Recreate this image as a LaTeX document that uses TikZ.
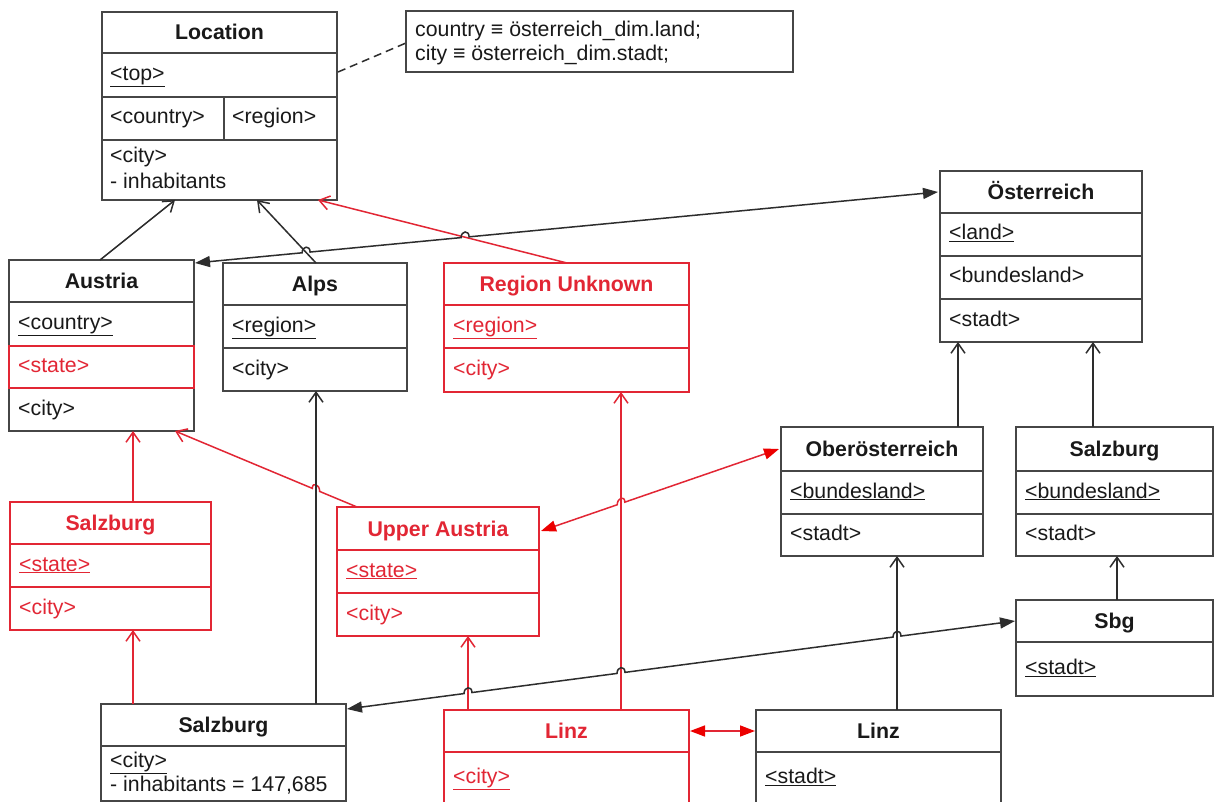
\documentclass[tikz,border=0pt]{standalone}
\usepackage{fontspec}
\setmainfont{Liberation Sans}
\usetikzlibrary{arrows.meta,calc}

\definecolor{ink}{RGB}{25,25,25}
\definecolor{boxgray}{RGB}{70,70,70}
\definecolor{linegray}{RGB}{45,45,45}
\definecolor{umlred}{RGB}{226,38,52}
\definecolor{tipred}{RGB}{236,0,0}
\newcommand\umlfont{\fontsize{21.3pt}{26pt}\selectfont}

\begin{document}
\begin{tikzpicture}[x=1pt,y=-1pt,
  box/.style={draw=boxgray, line width=1.9pt, anchor=north west, inner sep=0pt, outer sep=0pt},
  rbox/.style={box, draw=umlred},
  sep/.style={draw=boxgray, line width=1.9pt},
  rsep/.style={draw=umlred, line width=1.9pt},
  ttl/.style={font=\umlfont\bfseries, text=ink, inner sep=0pt, text height=15pt, text depth=0pt},
  rttl/.style={ttl, text=umlred},
  attr/.style={font=\umlfont, anchor=west, inner sep=0pt, text=ink, text height=15pt, text depth=4pt},
  rattr/.style={attr, text=umlred},
  conn/.style={draw=linegray, line width=1.5pt},
  rconn/.style={draw=umlred, line width=1.5pt},
  opentip/.style={-{Straight Barb[length=10pt,width=14pt]}},
  bothfill/.style={{Triangle[length=15pt,width=11pt]}-{Triangle[length=15pt,width=11pt]}},
  rbothfill/.style={{Triangle[length=15pt,width=11pt,color=tipred]}-{Triangle[length=15pt,width=11pt,color=tipred]}},
  remark/.style={draw=linegray, line width=1.5pt, dash pattern=on 8pt off 5pt}
]
\useasboundingbox (0,0) rectangle (1215,802);
\clip (0,0) rectangle (1215,802);
\fill[white] (0,0) rectangle (1215,802);

% ---------- Location ----------
\node[box, minimum width=235pt, minimum height=188pt] (loc) at (102,12) {};
\draw[sep] (102,53) -- (337,53) (102,97) -- (337,97) (102,140) -- (337,140) (224,97) -- (224,140);
\node[ttl] (loc-t) at (219.5,32.5) {Location};
\node[attr] (loc-a) at (110,75) {\underline{<top>}};
\node[attr] (loc-b) at (110,118.5) {<country>};
\node[attr] (loc-c) at (232,118.5) {<region>};
\node[attr] (loc-d) at (110,157) {<city>};
\node[attr] (loc-e) at (110,183) {- inhabitants};

% ---------- mapping note ----------
\node[box, minimum width=387pt, minimum height=61pt] (note) at (406,11) {};
\node[attr] (note-a) at (415,31) {country ≡ österreich\_dim.land;};
\node[attr] (note-b) at (415,55) {city ≡ österreich\_dim.stadt;};

% ---------- Austria ----------
\node[box, minimum width=185pt, minimum height=171pt] (aus) at (9,260) {};
\draw[sep] (9,302) -- (194,302);
\draw[rsep] (9,346) rectangle (194,388);
\node[ttl] (aus-t) at (101.5,281) {Austria};
\node[attr] (aus-a) at (18,324) {\underline{<country>}};
\node[rattr] (aus-b) at (18,367) {<state>};
\node[attr] (aus-c) at (18,410) {<city>};

% ---------- Alps ----------
\node[box, minimum width=184pt, minimum height=128pt] (alps) at (223,263) {};
\draw[sep] (223,305) -- (407,305) (223,348) -- (407,348);
\node[ttl] (alps-t) at (315,284) {Alps};
\node[attr] (alps-a) at (232,326.5) {\underline{<region>}};
\node[attr] (alps-b) at (232,369.5) {<city>};

% ---------- Region Unknown ----------
\node[rbox, minimum width=245pt, minimum height=129pt] (ru) at (444,263) {};
\draw[rsep] (444,305) -- (689,305) (444,348) -- (689,348);
\node[rttl] (ru-t) at (566.5,284) {Region Unknown};
\node[rattr] (ru-a) at (453,326.5) {\underline{<region>}};
\node[rattr] (ru-b) at (453,370) {<city>};

% ---------- Österreich ----------
\node[box, minimum width=202pt, minimum height=171pt] (oest) at (940,171) {};
\draw[sep] (940,213) -- (1142,213) (940,256) -- (1142,256) (940,299) -- (1142,299);
\node[ttl] (oest-t) at (1041,192) {Österreich};
\node[attr] (oest-a) at (949,234.5) {\underline{<land>}};
\node[attr] (oest-b) at (949,277.5) {<bundesland>};
\node[attr] (oest-c) at (949,320.5) {<stadt>};

% ---------- Salzburg (state) ----------
\node[rbox, minimum width=201pt, minimum height=128pt] (sbr) at (10,502) {};
\draw[rsep] (10,544) -- (211,544) (10,587) -- (211,587);
\node[rttl] (sbr-t) at (110.5,523) {Salzburg};
\node[rattr] (sbr-a) at (19,565.5) {\underline{<state>}};
\node[rattr] (sbr-b) at (19,608.5) {<city>};

% ---------- Upper Austria ----------
\node[rbox, minimum width=202pt, minimum height=129pt] (ua) at (337,507) {};
\draw[rsep] (337,550) -- (539,550) (337,593) -- (539,593);
\node[rttl] (ua-t) at (438,528.5) {Upper Austria};
\node[rattr] (ua-a) at (346,571.5) {\underline{<state>}};
\node[rattr] (ua-b) at (346,614.5) {<city>};

% ---------- Oberösterreich ----------
\node[box, minimum width=202pt, minimum height=129pt] (ooe) at (781,427) {};
\draw[sep] (781,471) -- (983,471) (781,514) -- (983,514);
\node[ttl] (ooe-t) at (882,449) {Oberösterreich};
\node[attr] (ooe-a) at (790,492.5) {\underline{<bundesland>}};
\node[attr] (ooe-b) at (790,535) {<stadt>};

% ---------- Salzburg (bundesland) ----------
\node[box, minimum width=197pt, minimum height=129pt] (sbgr) at (1016,427) {};
\draw[sep] (1016,471) -- (1213,471) (1016,514) -- (1213,514);
\node[ttl] (sbgr-t) at (1114.5,449) {Salzburg};
\node[attr] (sbgr-a) at (1025,492.5) {\underline{<bundesland>}};
\node[attr] (sbgr-b) at (1025,535) {<stadt>};

% ---------- Sbg ----------
\node[box, minimum width=197pt, minimum height=96pt] (sbg) at (1016,600) {};
\draw[sep] (1016,642) -- (1213,642);
\node[ttl] (sbg-t) at (1114.5,621) {Sbg};
\node[attr] (sbg-a) at (1025,669) {\underline{<stadt>}};

% ---------- Salzburg (city) ----------
\node[box, minimum width=245pt, minimum height=97pt] (sbb) at (101,704) {};
\draw[sep] (101,746) -- (346,746);
\node[ttl] (sbb-t) at (223.5,725) {Salzburg};
\node[attr] (sbb-a) at (110,762) {\underline{<city>}};
\node[attr] (sbb-b) at (110,786) {- inhabitants = 147,685};

% ---------- Linz (city) ----------
\node[rbox, minimum width=245pt, minimum height=130pt] (linzr) at (444,710) {};
\draw[rsep] (444,752) -- (689,752);
\node[rttl] (linzr-t) at (566.5,731) {Linz};
\node[rattr] (linzr-a) at (453,778) {\underline{<city>}};

% ---------- Linz (stadt) ----------
\node[box, minimum width=245pt, minimum height=130pt] (linzb) at (756,710) {};
\draw[sep] (756,752) -- (1001,752);
\node[ttl] (linzb-t) at (878.5,731) {Linz};
\node[attr] (linzb-a) at (765,778) {\underline{<stadt>}};

% ---------- connector end points ----------
\coordinate (l1a) at ($(aus.north west)+(91,0)$);
\coordinate (l1b) at ($(loc.south west)+(73,0)$);
\coordinate (l2a) at ($(alps.north west)+(93,0)$);
\coordinate (l2b) at ($(loc.south west)+(155,0)$);
\coordinate (l3a) at ($(ru.north west)+(123,0)$);
\coordinate (l3b) at ($(loc.south west)+(216,0)$);
\coordinate (l4a) at ($(aus.north east)+(1,3)$);
\coordinate (l4b) at ($(oest.north west)+(-2,21)$);
\coordinate (l5a) at ($(sbr.north west)+(123,0)$);
\coordinate (l5b) at ($(aus.south west)+(124,0)$);
\coordinate (l6a) at ($(ua.north west)+(20,0)$);
\coordinate (l6b) at ($(aus.south west)+(166,0)$);
\coordinate (l7a) at ($(sbb.north west)+(215,0)$);
\coordinate (l7b) at ($(alps.south west)+(93,0)$);
\coordinate (l8a) at ($(ua.north east)+(2,24)$);
\coordinate (l8b) at ($(ooe.north west)+(-2,22)$);
\coordinate (l9a) at ($(linzr.north west)+(177,0)$);
\coordinate (l9b) at ($(ru.south west)+(177,0)$);
\coordinate (l10a) at ($(linzr.north west)+(24,0)$);
\coordinate (l10b) at ($(ua.south west)+(131,0)$);
\coordinate (l11a) at ($(sbb.north west)+(32,0)$);
\coordinate (l11b) at ($(sbr.south west)+(123,0)$);
\coordinate (l12a) at ($(sbb.north east)+(1,5)$);
\coordinate (l12b) at ($(sbg.north west)+(-1,21)$);
\coordinate (l13a) at ($(ooe.north west)+(177,0)$);
\coordinate (l13b) at ($(oest.south west)+(18,0)$);
\coordinate (l14a) at ($(sbgr.north west)+(77,0)$);
\coordinate (l14b) at ($(oest.south west)+(153,0)$);
\coordinate (l15a) at ($(sbg.north west)+(101,0)$);
\coordinate (l15b) at ($(sbgr.south west)+(101,0)$);
\coordinate (l16a) at ($(linzb.north west)+(141,0)$);
\coordinate (l16b) at ($(ooe.south west)+(116,0)$);
\coordinate (l17a) at ($(linzr.north east)+(1,21)$);
\coordinate (l17b) at ($(linzb.north west)+(-1,21)$);

% crossings where one line hops over another
\coordinate (h1) at (intersection of l4a--l4b and l2a--l2b);
\coordinate (h2) at (intersection of l4a--l4b and l3a--l3b);
\coordinate (h3) at (intersection of l6a--l6b and l7a--l7b);
\coordinate (h4) at (intersection of l8a--l8b and l9a--l9b);
\coordinate (h5) at (intersection of l12a--l12b and l10a--l10b);
\coordinate (h6) at (intersection of l12a--l12b and l9a--l9b);
\coordinate (h7) at (intersection of l12a--l12b and l16a--l16b);

% ---------- connectors ----------
\draw[remark] ($(loc.north east)+(1,60)$) -- ($(note.north west)+(0,32)$);

\draw[conn, opentip] (l1a) -- (l1b);
\draw[conn, opentip] (l2a) -- (l2b);
\draw[rconn, opentip] (l3a) -- (l3b);
\draw[conn, bothfill] (l4a)
  -- ($(h1)!4pt!(l4a)$) .. controls +(0,-7) and +(0,-7) .. ($(h1)!4pt!(l4b)$)
  -- ($(h2)!4pt!(l4a)$) .. controls +(0,-7) and +(0,-7) .. ($(h2)!4pt!(l4b)$)
  -- (l4b);
\draw[rconn, opentip] (l5a) -- (l5b);
\draw[rconn, opentip] (l6a)
  -- ($(h3)!4pt!(l6a)$) .. controls +(0,-7) and +(0,-7) .. ($(h3)!4pt!(l6b)$)
  -- (l6b);
\draw[conn, opentip] (l7a) -- (l7b);
\draw[rconn, rbothfill] (l8a)
  -- ($(h4)!4pt!(l8a)$) .. controls +(0,-7) and +(0,-7) .. ($(h4)!4pt!(l8b)$)
  -- (l8b);
\draw[rconn, opentip] (l9a) -- (l9b);
\draw[rconn, opentip] (l10a) -- (l10b);
\draw[rconn, opentip] (l11a) -- (l11b);
\draw[conn, bothfill] (l12a)
  -- ($(h5)!4pt!(l12a)$) .. controls +(0,-7) and +(0,-7) .. ($(h5)!4pt!(l12b)$)
  -- ($(h6)!4pt!(l12a)$) .. controls +(0,-7) and +(0,-7) .. ($(h6)!4pt!(l12b)$)
  -- ($(h7)!4pt!(l12a)$) .. controls +(0,-7) and +(0,-7) .. ($(h7)!4pt!(l12b)$)
  -- (l12b);
\draw[conn, opentip] (l13a) -- (l13b);
\draw[conn, opentip] (l14a) -- (l14b);
\draw[conn, opentip] (l15a) -- (l15b);
\draw[conn, opentip] (l16a) -- (l16b);
\draw[rconn, rbothfill] (l17a) -- (l17b);
\end{tikzpicture}
\end{document}
